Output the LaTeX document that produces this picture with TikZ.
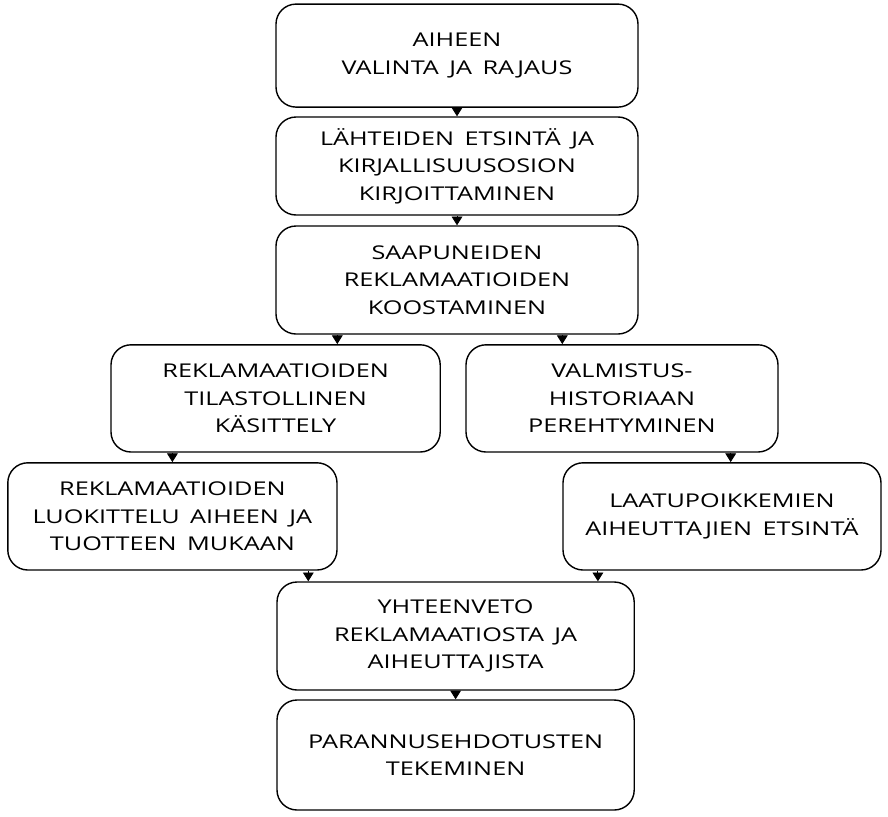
\documentclass[tikz,border=0pt]{standalone}
\usepackage{fontspec}
\setmainfont{Open Sans}[FakeStretch=1.33, WordSpace=1.6]
\usetikzlibrary{positioning,calc,arrows,arrows.meta}
\tikzset{font=\fontsize{13.5}{19.5}\selectfont}

\begin{document}
\begin{tikzpicture}
	\useasboundingbox (0,0) rectangle (22.2,-20.4);
	\tikzstyle{every node}=[align=center, inner sep=1pt]
	\tikzstyle{phase}=[draw, line width=1pt, rounded corners=0.5cm, minimum height=2.6cm]
	\tikzstyle{arr}=[line width=0.6pt, -{Triangle[width=0.27cm,length=0.22cm]}]

	\node[phase, minimum width=9.05cm, minimum height=2.575cm] (aihe) at (11.425, -1.39) {AIHEEN\\VALINTA JA RAJAUS};
	\node[phase, minimum width=9.05cm, minimum height=2.45cm] (lahteet) at (11.425, -4.15) {LÄHTEIDEN ETSINTÄ JA\\KIRJALLISUUSOSION\\KIRJOITTAMINEN};
	\node[phase, minimum width=9.05cm, minimum height=2.7cm] (koonti) at (11.425, -7.0) {SAAPUNEIDEN\\REKLAMAATIOIDEN\\KOOSTAMINEN};

	\node[phase, minimum width=8.23cm, minimum height=2.68cm] (tilasto) at (6.89, -9.96) {REKLAMAATIOIDEN\\TILASTOLLINEN\\KÄSITTELY};
	\node[phase, minimum width=7.8cm, minimum height=2.68cm] (valm) at (15.55, -9.96) {VALMISTUS-\\HISTORIAAN\\PEREHTYMINEN};

	\node[phase, minimum width=8.23cm, minimum height=2.68cm] (luokit) at (4.31, -12.91) {REKLAMAATIOIDEN\\LUOKITTELU AIHEEN JA\\TUOTTEEN MUKAAN};
	\node[phase, minimum width=7.95cm, minimum height=2.68cm] (laatu) at (18.05, -12.91) {LAATUPOIKKEMIEN\\AIHEUTTAJIEN ETSINTÄ};

	\node[phase, minimum width=8.93cm, minimum height=2.7cm] (yht) at (11.39, -15.9) {YHTEENVETO\\REKLAMAATIOSTA JA\\AIHEUTTAJISTA};
	\node[phase, minimum width=8.93cm, minimum height=2.75cm] (paran) at (11.39, -18.875) {PARANNUSEHDOTUSTEN\\TEKEMINEN};

	\draw[arr] (aihe.south) -- (lahteet.north);
	\draw[arr] (lahteet.south) -- (koonti.north);
	\draw[arr] ([xshift=1.55cm]koonti.south west) -- ([xshift=1.55cm]koonti.south west |- tilasto.north);
	\draw[arr] ([xshift=2.425cm]valm.north west |- koonti.south) -- ([xshift=2.425cm]valm.north west);
	\draw[arr] (tilasto.south -| luokit.north) -- (luokit.north);
	\draw[arr] ([xshift=-1.2cm]valm.south east) -- ([xshift=-1.2cm]valm.south east |- laatu.north);
	\draw[arr] ([xshift=0.8cm]yht.north west |- luokit.south) -- ([xshift=0.8cm]yht.north west);
	\draw[arr] ([xshift=-0.925cm]yht.north east |- laatu.south) -- ([xshift=-0.925cm]yht.north east);
	\draw[arr] (yht.south) -- (paran.north);
\end{tikzpicture}
\end{document}
